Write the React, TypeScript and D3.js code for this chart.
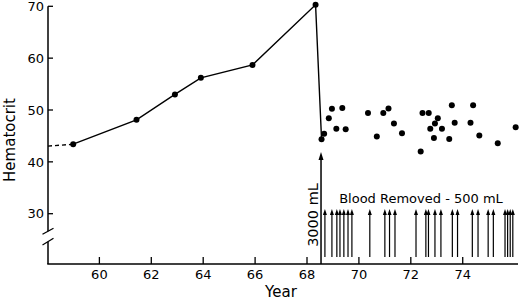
import React from 'react';
import * as d3 from 'd3';

// Hematocrit before phlebotomy era (solid line)
const lineYears = [58.99, 61.43, 62.91, 63.91, 65.9, 68.33, 68.56];
const lineValues = [43.4, 48.1, 53.0, 56.2, 58.7, 70.3, 44.35];
// dashed lead-in
const leadYears = [58.02, 58.99];
const leadValues = [43.05, 43.4];
// hematocrit during phlebotomy
const postYears = [68.56, 68.66, 68.84, 68.96, 69.13, 69.36, 69.49, 70.35, 70.69, 70.94, 71.14, 71.35, 71.66, 72.38, 72.45, 72.69, 72.75, 72.89, 72.93, 73.04, 73.2, 73.48, 73.58, 73.69, 74.3, 74.4, 74.64, 75.35, 76.04];
const postValues = [44.35, 45.4, 48.4, 50.25, 46.4, 50.4, 46.3, 49.4, 44.9, 49.4, 50.3, 47.4, 45.5, 42.0, 49.4, 49.4, 46.4, 44.6, 47.4, 48.4, 46.4, 44.4, 50.9, 47.55, 47.55, 50.9, 45.1, 43.6, 46.65];
// 500 mL phlebotomies
const removalYears = [68.69, 68.96, 69.15, 69.27, 69.42, 69.58, 69.73, 70.42, 71.0, 71.18, 71.39, 72.2, 72.58, 72.68, 72.93, 73.16, 73.6, 73.8, 74.37, 74.59, 74.98, 75.18, 75.63, 75.73, 75.83, 75.93];
const bigRemovalYear = 68.54;
const bigRemovalLabel = '3000 mL';
const removalLabel = 'Blood Removed - 500 mL';

const yTicks = [30, 40, 50, 60, 70];
const xTicks = [60, 62, 64, 66, 68, 70, 72, 74];

export default function App() {
  const W = 520, H = 300;
  const x = d3.scaleLinear().domain([58.02, 76.13]).range([48, 518]);
  const y = d3.scaleLinear().domain([30, 70]).range([213.7, 6.3]);
  const baseY = 264;
  const axisX = x(58.02);
  const font = 'DejaVu Sans, sans-serif';

  const line = d3.line<[number, number]>().x(d => x(d[0])).y(d => y(d[1]));
  const mainPts: [number, number][] = lineYears.map((t, i) => [t, lineValues[i]]);
  const leadPts: [number, number][] = leadYears.map((t, i) => [t, leadValues[i]]);

  const arrowTop = 209, arrowBottom = 257;
  const bigTop = 152;

  return (
    <svg width={W} height={H} style={{ position: 'absolute', left: 0, top: 0, background: '#fff' }}>
      <rect width={W} height={H} fill="#fff" />
      {/* Y axis with break */}
      <line x1={axisX} x2={axisX} y1={y(70)} y2={231.3} stroke="#000" strokeWidth={1.5} />
      <line x1={axisX} x2={axisX} y1={241.7} y2={baseY} stroke="#000" strokeWidth={1.5} />
      <line x1={axisX - 5.5} x2={axisX + 5.5} y1={234.3} y2={228.3} stroke="#000" strokeWidth={1.3} />
      <line x1={axisX - 5.5} x2={axisX + 5.5} y1={245} y2={238.3} stroke="#000" strokeWidth={1.3} />
      {yTicks.map(t => (
        <g key={t}>
          <line x1={axisX} x2={axisX + 5} y1={y(t)} y2={y(t)} stroke="#000" strokeWidth={1.3} />
          <text x={axisX - 4} y={y(t)} dy="0.36em" textAnchor="end" fontFamily={font} fontSize={13}>{t}</text>
        </g>
      ))}
      {/* X axis */}
      <line x1={axisX - 0.75} x2={x(76.13)} y1={baseY} y2={baseY} stroke="#000" strokeWidth={1.5} />
      {xTicks.map(t => (
        <g key={t}>
          <line x1={x(t)} x2={x(t)} y1={baseY} y2={baseY - 7} stroke="#000" strokeWidth={1.3} />
          <text x={x(t)} y={279} textAnchor="middle" fontFamily={font} fontSize={13}>{t}</text>
        </g>
      ))}
      <text x={281} y={297} textAnchor="middle" fontFamily={font} fontSize={15}>Year</text>
      <text transform={`translate(15,140) rotate(-90)`} textAnchor="middle" fontFamily={font} fontSize={15}>Hematocrit</text>

      {/* Lines */}
      <path d={line(leadPts) || ''} fill="none" stroke="#000" strokeWidth={1.3} strokeDasharray="4,3" />
      <path d={line(mainPts) || ''} fill="none" stroke="#000" strokeWidth={1.4} />
      {mainPts.slice(0, 6).map((p, i) => (
        <circle key={i} cx={x(p[0])} cy={y(p[1])} r={3} fill="#000" />
      ))}
      {postYears.map((t, i) => (
        <circle key={'p' + i} cx={x(t)} cy={y(postValues[i])} r={3} fill="#000" />
      ))}

      {/* Removal arrows */}
      {removalYears.map((t, i) => {
        const cx = x(t);
        return (
          <g key={'a' + i}>
            <line x1={cx} x2={cx} y1={arrowBottom} y2={arrowTop + 3} stroke="#000" strokeWidth={1.2} />
            <path d={`M${cx},${arrowTop} L${cx - 2},${arrowTop + 6} L${cx + 2},${arrowTop + 6} Z`} fill="#000" />
          </g>
        );
      })}
      {(() => {
        const cx = x(bigRemovalYear);
        return (
          <g>
            <line x1={cx} x2={cx} y1={baseY} y2={bigTop + 4} stroke="#000" strokeWidth={1.5} />
            <path d={`M${cx},${bigTop} L${cx - 2.5},${bigTop + 8} L${cx + 2.5},${bigTop + 8} Z`} fill="#000" />
          </g>
        );
      })()}
      <text transform={`translate(318,215) rotate(-90)`} textAnchor="middle" fontFamily={font} fontSize={14.5}>{bigRemovalLabel}</text>
      <text x={421} y={203} textAnchor="middle" fontFamily={font} fontSize={13}>{removalLabel}</text>
    </svg>
  );
}
